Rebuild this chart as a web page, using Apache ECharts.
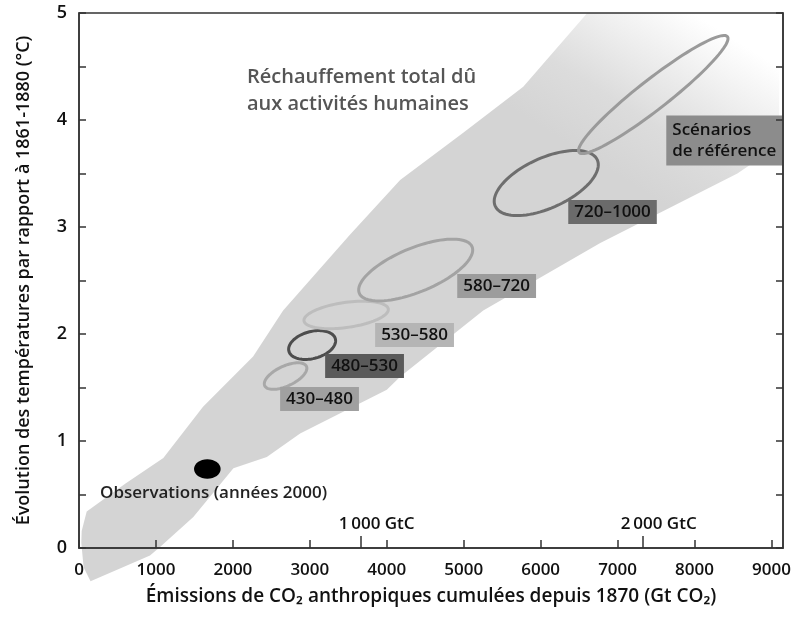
<!DOCTYPE html>
<html><head><meta charset="utf-8">
<script src="https://cdn.jsdelivr.net/npm/echarts@6/dist/echarts.min.js"></script>
<style>html,body{margin:0;padding:0;background:#fff}#c{width:794px;height:620px}</style>
</head><body><div id="c"></div>
<script>
// ---- data ----
const xTicks = [0,1000,2000,3000,4000,5000,6000,7000,8000,9000];
const yTicks = [0,1,2,3,4,5];
const gtcTicks = [3667, 7333];
const gtcLabels = ['1\u2009000 GtC', '2\u2009000 GtC'];

// plume of model results (Gt CO2, °C)
const plumeUpper = [[35,0.16],[100,0.34],[600,0.60],[1096,0.84],[1612,1.32],[2263,1.79],[2653,2.22],[3524,2.93],[4174,3.44],[4994,3.88],[5774,4.31],[6606,5.0],[9100,5.0]];
const plumeLower = [[30,0.05],[60,-0.18],[150,-0.31],[923,-0.07],[1053,0.01],[1486,0.29],[2007,0.745],[2441,0.85],[2874,1.07],[4001,1.48],[4174,1.60],[5254,2.22],[6775,2.85],[8557,3.50],[9050,3.74],[9100,3.76]];

const scenarioNames = ['430–480','480–530','530–580','580–720','720–1000','Scénarios\nde référence'];
const ellipseCenter = [[2685,1.607],[3030,1.897],[3472,2.178],[4376,2.598],[6073,3.411],[7464,4.238]];
const ellipseTip    = [[2956,1.698],[3332,1.955],[4020,2.233],[5109,2.815],[6736,3.628],[8428,4.779]];
const ellipseHalfWidth = [0.093,0.126,0.117,0.206,0.234,0.14];
const labelAnchor = [[2614,1.393],[3199,1.701],[3849,1.991],[4916,2.449],[6359,3.140],[7633,3.808]];

const observation = [1668, 0.738];
const observationHalfSize = [173, 0.091];
const observationLabel = 'Observations (années 2000)';
const observationLabelAt = [1749, 0.514];

// ---- styles ----
const FONT = "'Open Sans','Noto Sans',sans-serif";
const FW = 600;
const ellipseStroke = ['#a8a8a8','#4d4d4d','#bdbdbd','#a3a3a3','#6e6e6e','#9a9a9a'];
const boxFill = ['#a0a0a0','#5a5a5a','#b5b5b5','#9c9c9c','#6b6b6b','#8c8c8c'];
const fadeFrom = [6970, 3.5], fadeTo = [8200, 4.9];

const chart = echarts.init(document.getElementById('c'), null, {renderer:'canvas'});

function ellipsePoints(c, a, b, ang, n) {
  const pts = [];
  for (let k = 0; k <= n; k++) {
    const f = 2*Math.PI*k/n;
    const u = a*Math.cos(f), v = b*Math.sin(f);
    pts.push([c[0] + u*Math.cos(ang) - v*Math.sin(ang), c[1] + u*Math.sin(ang) + v*Math.cos(ang)]);
  }
  return pts;
}

const axisLineStyle = {color:'#333', width:1.5};

chart.setOption({
  animation:false,
  title:{
    text:'Réchauffement total dû\naux activités humaines',
    left:247, top:64, padding:0,
    textStyle:{fontFamily:FONT, fontSize:20, lineHeight:27, fontWeight:FW, color:'#555'}
  },
  grid:{left:79, right:11, top:13, bottom:72, show:true, borderColor:'#333', borderWidth:1.5, backgroundColor:'transparent', z:10},
  xAxis:[{
    type:'value', min:0, max:9150, interval:1000, position:'bottom', z:10,
    splitLine:{show:false},
    axisLine:{show:true, onZero:false, lineStyle:axisLineStyle},
    axisTick:{show:true, inside:true, length:8, customValues:xTicks, lineStyle:axisLineStyle},
    axisLabel:{customValues:xTicks, margin:14, color:'#111', fontSize:17, fontWeight:FW, fontFamily:FONT, formatter:v=>String(v)},
    name:'Émissions de CO₂ anthropiques cumulées depuis 1870 (Gt CO₂)',
    nameLocation:'middle', nameGap:39,
    nameTextStyle:{fontFamily:FONT, fontSize:19, fontWeight:FW, color:'#111'}
  },{
    type:'value', min:0, max:9150, position:'bottom', z:10,
    splitLine:{show:false},
    axisLine:{show:false},
    axisTick:{show:true, inside:true, length:12, customValues:gtcTicks, lineStyle:axisLineStyle},
    axisLabel:{inside:true, customValues:gtcTicks, margin:15, padding:[0,0,0,31], color:'#111', fontSize:17, fontWeight:FW, fontFamily:FONT,
      formatter:function(v){ let best=0; for(let i=0;i<gtcTicks.length;i++){ if(Math.abs(gtcTicks[i]-v)<Math.abs(gtcTicks[best]-v)) best=i; } return gtcLabels[best]; }}
  }],
  yAxis:[{
    type:'value', min:0, max:5, interval:0.5, position:'left', z:10,
    splitLine:{show:false},
    axisLine:{show:true, onZero:false, lineStyle:axisLineStyle},
    axisTick:{show:true, inside:true, length:7, lineStyle:axisLineStyle},
    axisLabel:{customValues:yTicks, margin:12, color:'#111', fontSize:18, fontWeight:FW, fontFamily:FONT, formatter:v=>String(v)},
    name:'Évolution des températures par rapport à 1861-1880 (°C)',
    nameLocation:'middle', nameGap:46,
    nameTextStyle:{fontFamily:FONT, fontSize:18, fontWeight:FW, color:'#111'}
  },{
    type:'value', min:0, max:5, interval:0.5, position:'right', z:10,
    splitLine:{show:false},
    axisLine:{show:true, onZero:false, lineStyle:axisLineStyle},
    axisTick:{show:true, inside:true, length:7, lineStyle:axisLineStyle},
    axisLabel:{show:false}
  }],
  series:[{
    type:'custom', name:'plume', z:1, clip:false, silent:true,
    data:[[0,0]],
    renderItem:function(params, api){
      const pts = plumeUpper.map(p=>api.coord(p)).concat(plumeLower.slice().reverse().map(p=>api.coord(p)));
      const f0 = api.coord(fadeFrom), f1 = api.coord(fadeTo);
      return {type:'polygon', shape:{points:pts}, style:{
        fill:{type:'linear', x:f0[0], y:f0[1], x2:f1[0], y2:f1[1], global:true,
          colorStops:[{offset:0,color:'#d4d4d4'},{offset:0.35,color:'#dcdcdc'},{offset:1,color:'#ffffff'}]},
        stroke:null}};
    }
  },{
    type:'custom', name:'ellipses', z:3, clip:false, silent:true,
    data:ellipseCenter.map((c,i)=>[c[0],c[1],ellipseTip[i][0],ellipseTip[i][1],ellipseHalfWidth[i]]),
    renderItem:function(params, api){
      const c = api.coord([api.value(0), api.value(1)]);
      const t = api.coord([api.value(2), api.value(3)]);
      const b = api.size([0, api.value(4)])[1];
      const a = Math.hypot(t[0]-c[0], t[1]-c[1]);
      const ang = Math.atan2(t[1]-c[1], t[0]-c[0]);
      return {type:'polygon', shape:{points:ellipsePoints(c,a,b,ang,90)},
        style:{fill:null, stroke:ellipseStroke[params.dataIndex], lineWidth:3}};
    }
  },{
    type:'custom', name:'observations', z:3, clip:false, silent:true,
    data:[[observation[0], observation[1], observationHalfSize[0], observationHalfSize[1]]],
    renderItem:function(params, api){
      const c = api.coord([api.value(0), api.value(1)]);
      const s = api.size([api.value(2), api.value(3)]);
      return {type:'ellipse', shape:{cx:c[0], cy:c[1], rx:s[0], ry:s[1]}, style:{fill:'#000', stroke:null}};
    }
  },{
    type:'custom', name:'labels', z:4, clip:false, silent:true,
    data:labelAnchor.map(p=>[p[0],p[1]]),
    renderItem:function(params, api){
      const p = api.coord([api.value(0), api.value(1)]);
      const i = params.dataIndex;
      const multi = scenarioNames[i].indexOf('\n')>=0;
      return {type:'text', x:p[0], y:p[1], style:{
        text:scenarioNames[i], fill:'#111', fontSize:17, fontWeight:FW, fontFamily:FONT,
        align:'left', verticalAlign:'middle', lineHeight:multi?21:18,
        backgroundColor:boxFill[i], padding:multi?[4,6,4,6]:[3,6,3,6]}};
    }
  },{
    type:'custom', name:'obsLabel', z:4, clip:false, silent:true,
    data:[observationLabelAt],
    renderItem:function(params, api){
      const p = api.coord([api.value(0), api.value(1)]);
      return {type:'text', x:p[0], y:p[1], style:{text:observationLabel, fill:'#222', fontSize:17, fontWeight:FW, fontFamily:FONT, align:'center', verticalAlign:'middle'}};
    }
  }]
});
</script></body></html>
